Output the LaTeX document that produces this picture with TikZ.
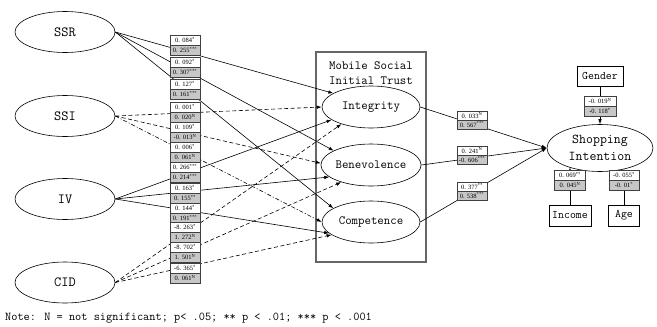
\documentclass[tikz,border=0pt]{standalone}
\usepackage{fontspec}
\setmainfont{Liberation Serif}
\newcommand\monof{\ttfamily}
\usetikzlibrary{shapes.geometric,arrows.meta}
\newcommand\sps[1]{\textsuperscript{#1}}
\newcommand\lblpair[7]{% name, x, ytop, width, height, top text, bottom text
  \node[lw,minimum width=#4,minimum height=#5] (#1a) at (#2,#3) {#6};
  \node[lg,minimum width=#4,minimum height=#5] (#1b) at (#1a.south) {#7};}
\begin{document}
\begin{tikzpicture}[x=1pt,y=-1pt,
  lat/.style={ellipse,draw,line width=0.6pt,minimum width=100pt,minimum height=41pt,inner sep=0pt,font=\monof\fontsize{14}{16}\selectfont},
  con/.style={ellipse,draw,line width=0.6pt,minimum width=98pt,minimum height=42pt,inner sep=0pt,font=\monof\fontsize{12.5}{14}\selectfont},
  ctl/.style={rectangle,draw,line width=0.6pt,minimum height=20pt,inner sep=0pt,font=\monof\fontsize{11.5}{13}\selectfont},
  lw/.style={rectangle,draw=black!75,line width=0.5pt,fill=white,inner sep=0pt,anchor=north,font=\fontsize{6.5}{7}\selectfont},
  lg/.style={lw,fill=black!22},
  pth/.style={-{Latex[length=5pt,width=3.5pt]},line width=0.6pt},
  dsh/.style={dash pattern=on 4pt off 2.5pt},
  dshdot/.style={dash pattern=on 4pt off 2pt on 1pt off 2pt}]
\useasboundingbox (0,0) rectangle (657,327);
% latent variables
\node[lat] (ssr) at (65,32) {SSR};
\node[lat] (ssi) at (65,116) {SSI};
\node[lat] (iv) at (65,199) {IV};
\node[lat] (cid) at (65,282.5) {CID};
% trust box
\node[rectangle,draw=black!60,line width=1.2pt,minimum width=110pt,minimum height=210pt,inner sep=0pt] (trust) at (371,157) {};
\node[font=\monof\fontsize{12.5}{15}\selectfont,align=center,inner sep=0pt] (title) at (371,73.5) {Mobile Social\\Initial Trust};
\node[con] (integ) at (371,107) {Integrity};
\node[con] (benev) at (371,165) {Benevolence};
\node[con] (comp) at (371,222) {Competence};
% outcome and controls
\node[ellipse,draw,line width=0.6pt,minimum width=106pt,minimum height=47pt,inner sep=0pt,align=center,font=\monof\fontsize{13.5}{17}\selectfont] (shop) at (600,148) {Shopping\\Intention};
\node[ctl,minimum width=46pt] (gender) at (600,76) {Gender};
\node[ctl,minimum width=42pt,minimum height=21pt] (income) at (570,215.5) {Income};
\node[ctl,minimum width=31pt,minimum height=21pt] (age) at (624,215.5) {Age};
% connectors
\draw[pth] (ssr.east) -- (integ.160);
\draw[pth] (ssr.east) -- (benev.159);
\draw[pth] (ssr.east) -- (comp.160);
\draw[pth,dsh] (ssi.east) -- (integ.180);
\draw[pth,dsh] (ssi.east) -- (benev.178);
\draw[pth,dshdot] (ssi.east) -- (comp.180);
\draw[pth] (iv.east) -- (integ.198);
\draw[pth] (iv.east) -- (benev.196);
\draw[pth] (iv.east) -- (comp.195);
\draw[pth,dsh] (cid.east) -- (integ.210);
\draw[pth,dsh] (cid.east) -- (benev.210);
\draw[pth,dsh] (cid.east) -- (comp.198);
\draw[pth] (integ.east) -- (shop.west);
\draw[pth] (benev.east) -- (shop.west);
\draw[pth] (comp.east) -- (shop.west);
\draw[pth] (gender.south) -- (shop.north);
\draw[pth] (income.north) -- (income.north |- shop.212);
\draw[pth] (age.north) -- (age.north |- shop.321);
% coefficient labels
\lblpair{p1}{185}{35}{30pt}{9.5pt}{0. 084\sps{*}}{0. 255\sps{***}}
\lblpair{p2}{185}{57}{30pt}{9.5pt}{0. 092\sps{*}}{0. 307\sps{***}}
\lblpair{p3}{185}{79}{30pt}{9.5pt}{0. 127\sps{*}}{0. 161\sps{***}}
\lblpair{p4}{185}{102}{30pt}{9.5pt}{0. 001\sps{*}}{0. 020\sps{N}}
\lblpair{p5}{185}{122}{30pt}{9.5pt}{0. 109\sps{*}}{-0. 013\sps{N}}
\lblpair{p6}{185}{142}{30pt}{9.5pt}{0. 006\sps{*}}{0. 061\sps{N}}
\lblpair{p7}{185}{162}{30pt}{9.5pt}{0. 266\sps{***}}{0. 214\sps{***}}
\lblpair{p8}{185}{183}{30pt}{9.5pt}{0. 163\sps{*}}{0. 155\sps{**}}
\lblpair{p9}{185}{203}{30pt}{9.5pt}{0. 144\sps{*}}{0. 191\sps{***}}
\lblpair{p10}{185}{222}{30pt}{9.5pt}{-8. 263\sps{*}}{1. 272\sps{N}}
\lblpair{p11}{185}{242}{30pt}{9.5pt}{-8. 702\sps{*}}{1. 501\sps{N}}
\lblpair{p12}{185}{263}{30pt}{9.5pt}{-6. 365\sps{*}}{0. 061\sps{N}}
\lblpair{q1}{472}{111}{30pt}{8.5pt}{0. 033\sps{N}}{0. 567\sps{***}}
\lblpair{q2}{472}{146}{30pt}{8.5pt}{0. 241\sps{N}}{-0. 606\sps{***}}
\lblpair{q3}{472}{182}{30pt}{8.5pt}{0. 377\sps{**}}{0. 538\sps{***}}
\lblpair{g1}{600}{96}{32pt}{9.5pt}{-0. 019\sps{N}}{-0. 118\sps{*}}
\lblpair{i1}{570}{170}{31pt}{9.5pt}{0. 069\sps{**}}{0. 045\sps{N}}
\lblpair{a1}{624}{170}{30pt}{9.5pt}{-0. 055\sps{*}}{-0. 01\sps{*}}
% note
\node[anchor=west,inner sep=0pt,font=\monof\fontsize{12}{13}\selectfont] (note) at (5,318) {Note: N = not significant; p< .05; ** p < .01; *** p < .001};
\end{tikzpicture}
\end{document}
